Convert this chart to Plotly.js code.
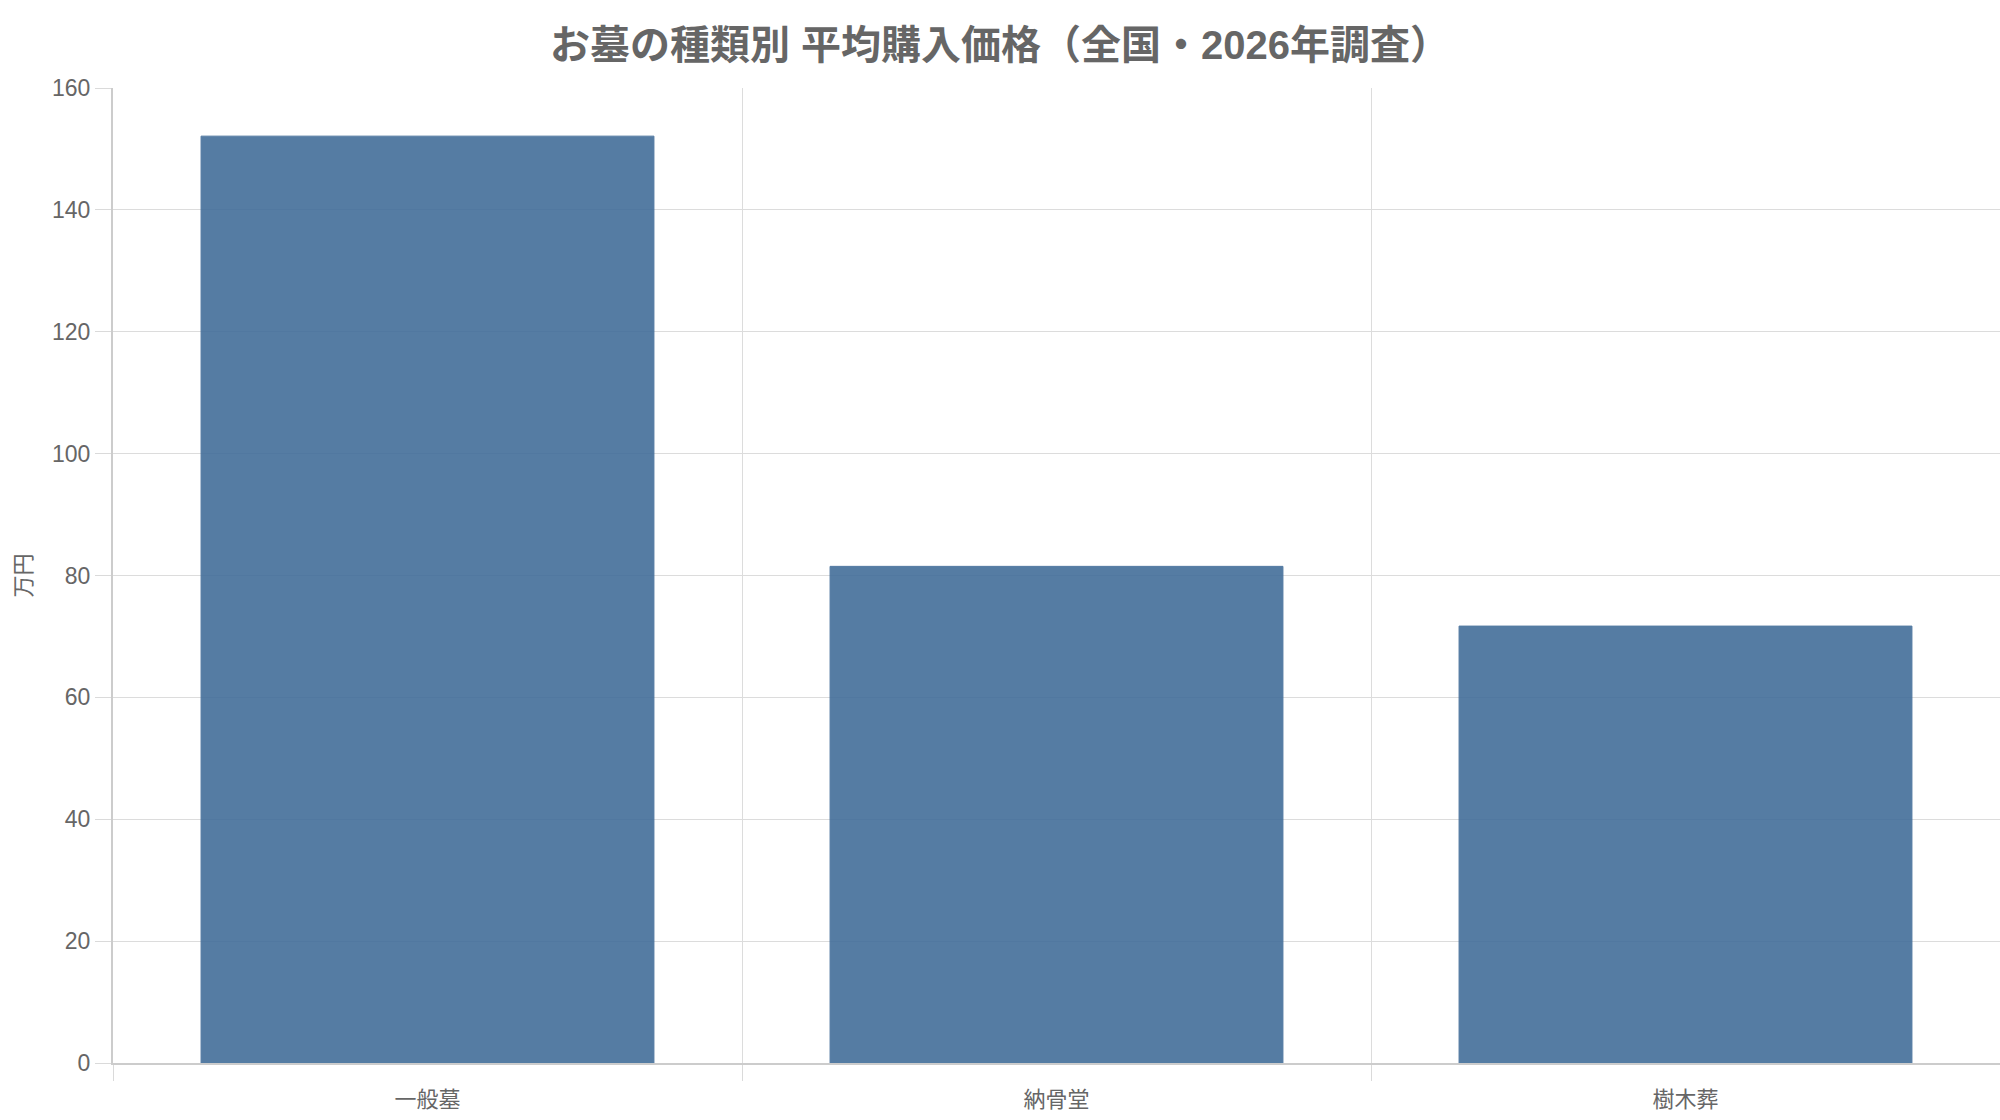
<!DOCTYPE html>
<html>
<head>
<meta charset="utf-8">
<script src="https://cdn.plot.ly/plotly-3.0.1.min.js"></script>
<style>
  html, body { margin: 0; padding: 0; background: #fff; }
  #chart { width: 2000px; height: 1120px; }
</style>
</head>
<body>
<div id="chart"></div>
<script>
// お墓の種類別 平均購入価格（万円）
const categories = ["一般墓", "納骨堂", "樹木葬"];
const prices = [152.1, 81.5, 71.7];
const yTicks = [0, 20, 40, 60, 80, 100, 120, 140, 160];

const FONT = '"Liberation Sans", Arial, "Noto Sans CJK JP", sans-serif';
const GRAY = "#666666";

const trace = {
  type: "bar",
  x: categories,
  y: prices,
  marker: {
    color: "#436e9a",
    opacity: 0.9,
    line: { color: "#436e9a", width: 1 },
  },
  hoverinfo: "x+y",
};

const layout = {
  width: 2000,
  height: 1120,
  margin: { l: 113, r: 0, t: 88, b: 57 },
  paper_bgcolor: "#ffffff",
  plot_bgcolor: "#ffffff",
  font: { family: FONT, size: 22, color: GRAY },
  title: {
    text: "お墓の種類別 平均購入価格（全国・2026年調査）",
    font: { family: FONT, size: 40, color: GRAY, weight: "bold" },
    x: 0.5,
    xanchor: "center",
    y: 0.96,
    yref: "container",
    yanchor: "middle",
  },
  bargap: 0.28,
  showlegend: false,
  xaxis: {
    type: "category",
    tickson: "boundaries",
    ticks: "outside",
    ticklen: 16,
    tickcolor: "#dadada",
    showgrid: true,
    gridcolor: "#dcdcdc",
    gridwidth: 1,
    showline: true,
    linecolor: "#cccccc",
    linewidth: 2,
    zeroline: false,
    tickfont: { family: FONT, size: 22, color: GRAY },
    ticklabelstandoff: 16,
    automargin: false,
  },
  yaxis: {
    range: [0, 160],
    tickvals: yTicks,
    ticks: "outside",
    ticklen: 16,
    tickcolor: "#dadada",
    showgrid: true,
    gridcolor: "#dcdcdc",
    gridwidth: 1,
    showline: true,
    linecolor: "#cccccc",
    linewidth: 2,
    zeroline: false,
    tickfont: { family: FONT, size: 23, color: GRAY },
    title: { text: "万円", font: { family: FONT, size: 22, color: GRAY }, standoff: 14 },
    automargin: false,
  },
};

Plotly.newPlot("chart", [trace], layout, { displayModeBar: false, responsive: false });
</script>
</body>
</html>
